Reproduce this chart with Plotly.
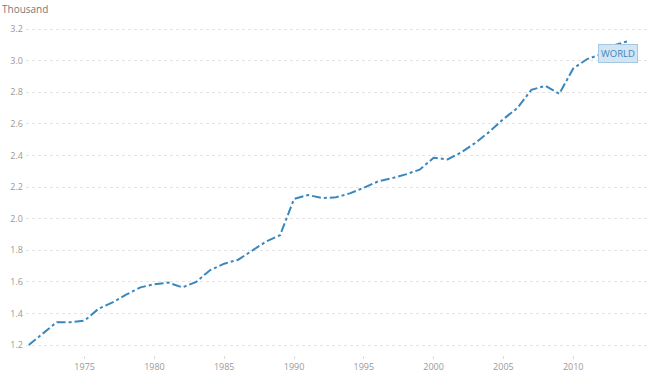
import plotly.graph_objects as go

years = list(range(1971, 2015))
values = [1.20, 1.27, 1.345, 1.345, 1.355, 1.43, 1.47, 1.52, 1.565, 1.585,
          1.595, 1.565, 1.60, 1.675, 1.715, 1.74, 1.80, 1.855, 1.895, 2.125,
          2.15, 2.13, 2.135, 2.16, 2.195, 2.235, 2.255, 2.28, 2.31, 2.385,
          2.375, 2.42, 2.48, 2.55, 2.63, 2.70, 2.815, 2.84, 2.79, 2.95,
          3.01, 3.04, 3.10, 3.125]
series_name = "WORLD"
unit_label = "Thousand"
y_ticks = [1.2, 1.4, 1.6, 1.8, 2.0, 2.2, 2.4, 2.6, 2.8, 3.0, 3.2]
x_ticks = [1975, 1980, 1985, 1990, 1995, 2000, 2005, 2010]

line_color = "#3a87bd"
grey = "#9a9a9a"

fig = go.Figure()
fig.add_trace(go.Scatter(
    x=years, y=values, mode="lines", name=series_name,
    line=dict(color=line_color, width=2, dash="dashdot"),
    showlegend=False,
))

fig.add_annotation(
    x=2013.2, y=3.048, xref="x", yref="y", text=series_name, showarrow=False,
    font=dict(family="Open Sans", size=9.5, color=line_color),
    bgcolor="#d3e5f3", bordercolor="#a4c8e3", borderwidth=1, borderpad=2,
    xanchor="center", yanchor="middle",
)
fig.add_annotation(
    x=0, y=1, xref="paper", yref="paper", xshift=-26, yshift=20,
    text=unit_label, showarrow=False, xanchor="left", yanchor="top",
    font=dict(family="Open Sans", size=10, color="#7a7a7a"),
)

fig.update_layout(
    width=650, height=390,
    margin=dict(l=26, r=0, t=20, b=35, autoexpand=False),
    paper_bgcolor="white", plot_bgcolor="white",
    font=dict(family="Open Sans", size=9, color=grey),
    xaxis=dict(
        range=[1970.8, 2015.5], tickvals=x_ticks, showgrid=False, zeroline=False,
        showline=False, ticks="outside", ticklen=3, tickcolor="#dddddd",
        tickfont=dict(size=9, color=grey), automargin=False,
    ),
    yaxis=dict(
        range=[1.137, 3.257], tickvals=y_ticks, ticktext=[f"{v:.1f}" for v in y_ticks],
        showgrid=True, gridcolor="#e4e4e4", griddash="dot", gridwidth=1,
        zeroline=False, showline=False, ticks="", ticklabelstandoff=2,
        tickfont=dict(size=9, color=grey), automargin=False,
    ),
)

fig.write_html("out.html", config={"displayModeBar": False},
               post_script="document.body.style.margin='0';")
